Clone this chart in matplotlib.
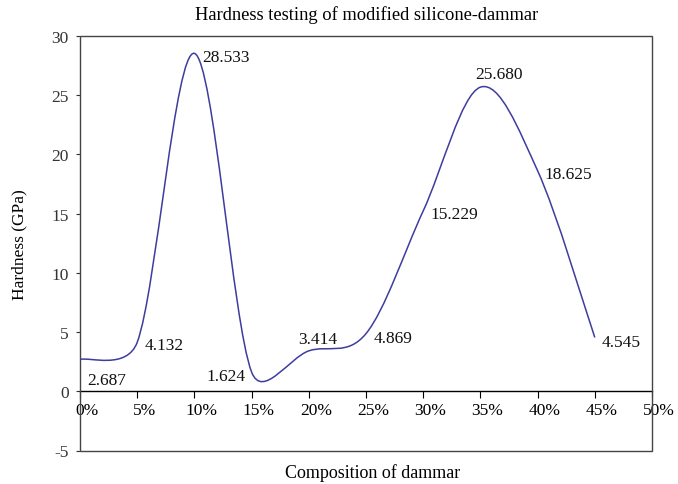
import numpy as np
import matplotlib
matplotlib.use("Agg")
import matplotlib.pyplot as plt
from matplotlib.path import Path
from matplotlib.patches import PathPatch, Rectangle
from matplotlib.transforms import ScaledTranslation

# ---- data ----
composition = [0, 5, 10, 15, 20, 25, 30, 35, 40, 45]          # % dammar
hardness = [2.687, 4.132, 28.533, 1.624, 3.414, 4.869, 15.229, 25.680, 18.625, 4.545]
x_ticks = [0, 5, 10, 15, 20, 25, 30, 35, 40, 45, 50]
x_tick_labels = [f"{v}%" for v in x_ticks]
y_ticks = [-5, 0, 5, 10, 15, 20, 25, 30]
y_tick_labels = [str(v) for v in y_ticks]
# label offsets (pixels) relative to each point
label_offsets = [(27, -20.5), (27, -3), (31.5, -4), (-26, -4), (9, 12),
                 (27, -4), (31, -3), (18.5, 13), (31, -3), (26, -4.5)]

plt.rcParams['font.family'] = ['Liberation Serif', 'DejaVu Serif']
FS = 12.5

fig = plt.figure(figsize=(6.78, 4.85), dpi=100)
W, H = 678, 485
L, R, T, B = 80, 652, 37, 451.5
ax = fig.add_axes([L / W, 1 - B / H, (R - L) / W, (B - T) / H])
ax.set_xlim(0, 50)
ax.set_ylim(-5, 30)

# frame
for s in ['top', 'right', 'left']:
    ax.spines[s].set_visible(False)
ax.spines['bottom'].set_position(('data', 0))
ax.spines['bottom'].set_color('black')
ax.spines['bottom'].set_linewidth(1.0)
ax.add_patch(Rectangle((0, 0), 1, 1, transform=ax.transAxes, fill=False,
                       edgecolor='#444444', lw=1.0, clip_on=False, zorder=3))

ax.set_xticks(x_ticks)
ax.set_xticklabels(x_tick_labels, fontsize=FS)
ax.set_yticks(y_ticks)
ax.set_yticklabels(y_tick_labels, fontsize=FS)
ax.tick_params(axis='x', direction='out', length=5, width=0.8, pad=3)
ax.tick_params(axis='y', direction='out', length=3, width=0.8, pad=5, colors='#333333')
off = ScaledTranslation(7 / 100, 0, fig.dpi_scale_trans)
for lab in ax.get_xticklabels():
    lab.set_transform(lab.get_transform() + off)

# Excel-style smoothed line (bezier computed in display space)
disp = ax.transData.transform(np.column_stack([composition, hardness]))
n = len(disp)
verts = [disp[0]]
codes = [Path.MOVETO]
for i in range(n - 1):
    p0 = disp[max(i - 1, 0)]
    p1 = disp[i]
    p2 = disp[i + 1]
    p3 = disp[min(i + 2, n - 1)]
    d12 = np.hypot(*(p2 - p1))
    d02 = np.hypot(*(p2 - p0))
    d13 = np.hypot(*(p3 - p1))
    f1 = 1 / 6 if d02 == 0 or d02 / 6 < d12 / 2 else (d12 / 2) / d02
    f2 = 1 / 6 if d13 == 0 or d13 / 6 < d12 / 2 else (d12 / 2) / d13
    c1 = p1 + f1 * (p2 - p0)
    c2 = p2 - f2 * (p3 - p1)
    verts += [c1, c2, p2]
    codes += [Path.CURVE4] * 3
inv = ax.transData.inverted()
verts_data = inv.transform(np.array(verts))
ax.add_patch(PathPatch(Path(verts_data, codes), fill=False,
                       edgecolor='#3d3d9e', lw=1.1, zorder=4))

for x, y, (dx, dy) in zip(composition, hardness, label_offsets):
    ax.annotate(f"{y:.3f}", xy=(x, y), xytext=(dx, dy), textcoords='offset pixels',
                ha='center', va='center', fontsize=FS, color='#111111')

fig.text(367 / W, 1 - 15 / H, "Hardness testing of modified silicone-dammar",
         ha='center', va='center', fontsize=13.3)
fig.text(373 / W, 1 - 473 / H, "Composition of dammar",
         ha='center', va='center', fontsize=13)
fig.text(19 / W, 1 - 245 / H, "Hardness (GPa)", rotation=90,
         ha='center', va='center', fontsize=FS)

fig.savefig("out.png", dpi=100)
